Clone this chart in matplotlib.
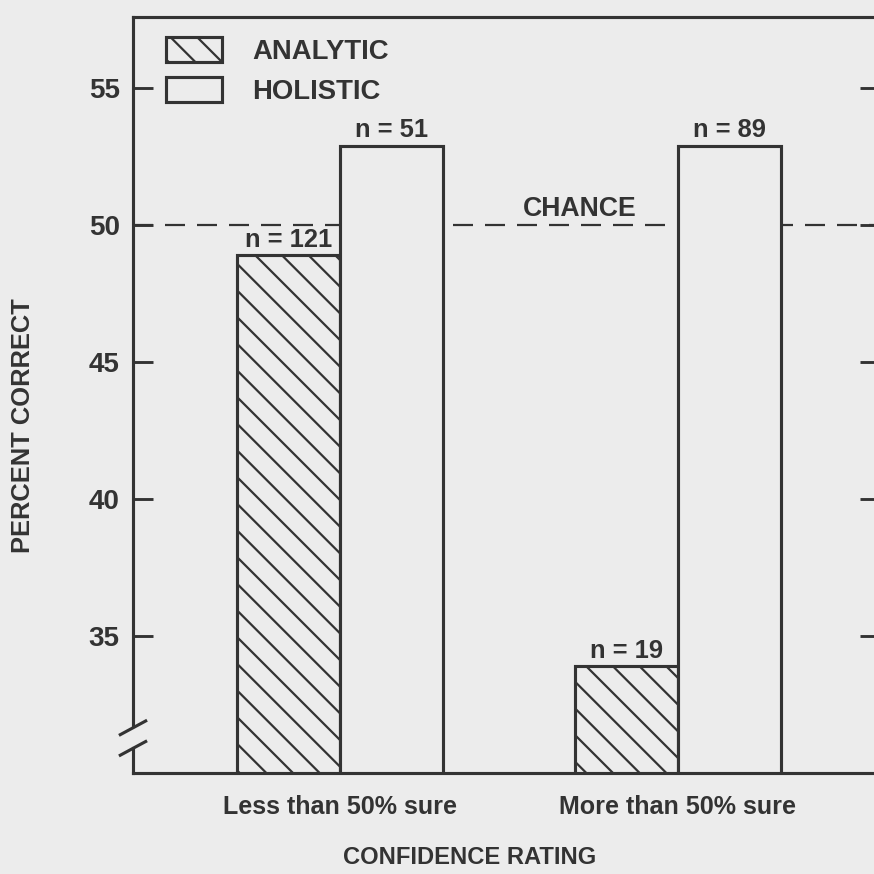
import matplotlib
matplotlib.use('Agg')
import matplotlib.pyplot as plt
import matplotlib.transforms as mtransforms
import numpy as np

# values
categories = ['Less than 50% sure', 'More than 50% sure']
analytic = [48.9, 33.9]
holistic = [52.9, 52.9]
analytic_n = ['n = 121', 'n = 19']
holistic_n = ['n = 51', 'n = 89']
chance = 50
yticks = [35, 40, 45, 50, 55]

bg = '#ececec'
ink = '#333333'

plt.rcParams['font.family'] = ['Liberation Sans', 'DejaVu Sans']
plt.rcParams['hatch.linewidth'] = 1.0
plt.rcParams['hatch.color'] = ink

dpi = 160
fig = plt.figure(figsize=(874 / dpi, 874 / dpi), dpi=dpi, facecolor=bg)
ax = fig.add_axes([133 / 874, 101 / 874, 747 / 874, 756 / 874])
ax.set_facecolor(bg)

x = np.arange(len(categories))
w = 0.305

ax.axhline(chance, color=ink, lw=1.0, linestyle=(0, (9, 5.4)), zorder=1)

b1 = ax.bar(x - w / 2, analytic, w, bottom=0, facecolor=bg, edgecolor=ink,
            linewidth=1.4, hatch='\\\\', zorder=2, label='ANALYTIC')
b2 = ax.bar(x + w / 2, holistic, w, bottom=0, facecolor=bg, edgecolor=ink,
            linewidth=1.4, zorder=2, label='HOLISTIC')

for xi, v, t in zip(x - w / 2, analytic, analytic_n):
    ax.annotate(t, (xi, v), xytext=(0, 1.5), textcoords='offset points',
                ha='center', va='bottom', fontsize=11.5, fontweight='bold', color=ink)
for xi, v, t in zip(x + w / 2, holistic, holistic_n):
    ax.annotate(t, (xi, v), xytext=(0, 1.5), textcoords='offset points',
                ha='center', va='bottom', fontsize=11.5, fontweight='bold', color=ink)

ax.annotate('CHANCE', (0.71, chance), xytext=(0, 1.5), textcoords='offset points',
            ha='center', va='bottom', fontsize=12, fontweight='bold', color=ink)

ax.set_xlim(-0.612, 1.598)
ax.set_ylim(30, 57.6)

ax.set_yticks(yticks)
ax.set_yticklabels([str(t) for t in yticks], fontsize=12.5, fontweight='bold', color=ink)
ax.tick_params(axis='y', direction='in', length=9, width=1.3, color=ink,
               pad=6, right=True)
ax.set_xticks(x)
ax.set_xticklabels(categories, fontsize=11.3, fontweight='bold', color=ink)
ax.tick_params(axis='x', length=0, pad=10)

for s in ['top', 'right', 'bottom']:
    ax.spines[s].set_color(ink)
    ax.spines[s].set_linewidth(1.4)
ax.spines['left'].set_visible(False)

# broken left axis
tr = mtransforms.blended_transform_factory(ax.transAxes, ax.transData)
ax.plot([0, 0], [31.7, 57.6], transform=tr, color=ink, lw=1.4, clip_on=False, zorder=3)
ax.plot([0, 0], [30, 30.9], transform=tr, color=ink, lw=1.4, clip_on=False, zorder=3)
for yc in [31.65, 30.9]:
    ax.plot([-0.017, 0.017], [yc - 0.25, yc + 0.25], transform=tr, color=ink,
            lw=1.4, clip_on=False, zorder=3)

ax.set_ylabel('PERCENT CORRECT', fontsize=11.5, fontweight='bold', color=ink)
ax.yaxis.set_label_coords(-0.131, 0.459)
ax.set_xlabel('CONFIDENCE RATING', fontsize=10.7, fontweight='bold', color=ink)
ax.xaxis.set_label_coords(0.45, -0.097)

leg = ax.legend(loc='upper left', bbox_to_anchor=(0.03, 0.988), frameon=False,
                fontsize=12.4, handlelength=2.0, handleheight=1.0,
                handletextpad=1.1, labelspacing=0.45, borderaxespad=0)
for t in leg.get_texts():
    t.set_fontweight('bold')
    t.set_color(ink)

fig.savefig('out.png', dpi=dpi, facecolor=bg)
